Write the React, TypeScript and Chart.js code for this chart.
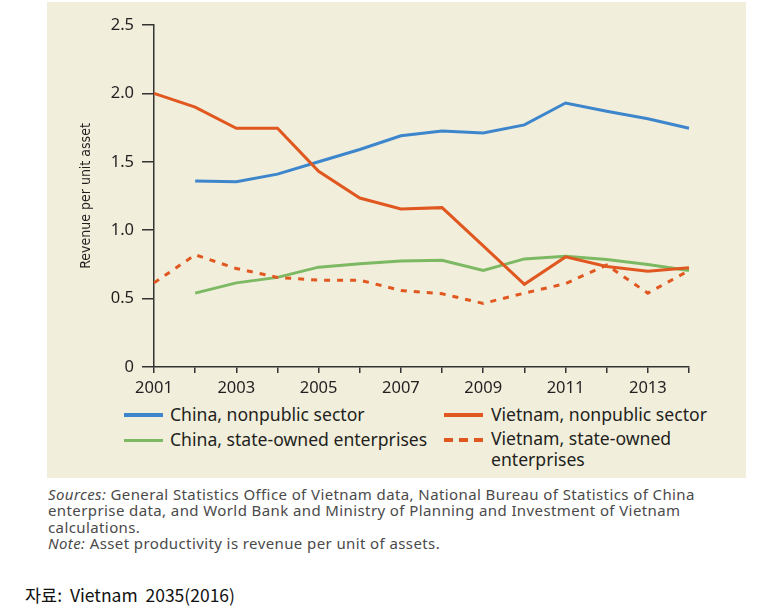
import React, { useEffect, useRef } from "react";
import { Chart, registerables } from "chart.js";

Chart.register(...registerables);

const years = ["2001", "2002", "2003", "2004", "2005", "2006", "2007", "2008", "2009", "2010", "2011", "2012", "2013", "2014"];
const chinaNonpublic = [null, 1.36, 1.355, 1.41, 1.5, 1.59, 1.69, 1.725, 1.71, 1.77, 1.93, 1.87, 1.815, 1.745];
const vietnamNonpublic = [2.0, 1.9, 1.745, 1.745, 1.43, 1.235, 1.155, 1.165, 0.885, 0.605, 0.805, 0.735, 0.7, 0.725];
const chinaSOE = [null, 0.54, 0.615, 0.655, 0.73, 0.755, 0.775, 0.78, 0.705, 0.79, 0.81, 0.785, 0.75, 0.705];
const vietnamSOE = [0.615, 0.82, 0.72, 0.655, 0.635, 0.635, 0.56, 0.535, 0.465, 0.54, 0.61, 0.745, 0.54, 0.705];
const yTicks = [0, 0.5, 1.0, 1.5, 2.0, 2.5];

const BLUE = "#3d86cc";
const ORANGE = "#e0571f";
const GREEN = "#7db963";
const BG = "#f1eedc";
const AXIS = "#333333";
const TEXT = "#231f20";

export default function App() {
  const canvasRef = useRef<HTMLCanvasElement | null>(null);

  useEffect(() => {
    if (!canvasRef.current) return;
    const chart = new Chart(canvasRef.current, {
      type: "line",
      data: {
        labels: years,
        datasets: [
          {
            label: "Vietnam, nonpublic sector",
            data: vietnamNonpublic,
            borderColor: ORANGE,
            borderWidth: 3,
            pointRadius: 0,
            tension: 0,
            order: 0,
          },
          {
            label: "China, nonpublic sector",
            data: chinaNonpublic,
            borderColor: BLUE,
            borderWidth: 3,
            pointRadius: 0,
            tension: 0,
            order: 1,
          },
          {
            label: "Vietnam, state-owned enterprises",
            data: vietnamSOE,
            borderColor: ORANGE,
            borderWidth: 3,
            borderDash: [6, 7],
            pointRadius: 0,
            tension: 0,
            order: 2,
          },
          {
            label: "China, state-owned enterprises",
            data: chinaSOE,
            borderColor: GREEN,
            borderWidth: 3,
            pointRadius: 0,
            tension: 0,
            order: 3,
          },
        ],
      },
      options: {
        animation: false,
        responsive: false,
        maintainAspectRatio: false,
        layout: { padding: { left: 28, top: 23, right: 57, bottom: 0 } },
        plugins: {
          legend: { display: false },
          tooltip: { enabled: false },
        },
        scales: {
          x: {
            type: "category",
            offset: false,
            grid: {
              display: true,
              drawOnChartArea: false,
              drawTicks: true,
              tickLength: 6,
              color: AXIS,
              lineWidth: 1.5,
            },
            border: { color: AXIS, width: 1.5 },
            ticks: {
              autoSkip: false,
              maxRotation: 0,
              minRotation: 0,
              padding: 5,
              color: TEXT,
              font: { family: "'Noto Sans', sans-serif", size: 16.5 },
              callback: (_v: any, i: number) => (i % 2 === 0 ? years[i] : ""),
            },
            afterFit: (s: any) => {
              s.height = 33;
            },
          },
          y: {
            min: 0,
            max: 2.5,
            afterBuildTicks: (s: any) => {
              s.ticks = yTicks.map((v) => ({ value: v }));
            },
            grid: {
              display: true,
              drawOnChartArea: false,
              drawTicks: true,
              tickLength: 12,
              color: AXIS,
              lineWidth: 1.5,
            },
            border: { color: AXIS, width: 1.5 },
            ticks: {
              padding: 8,
              color: TEXT,
              font: { family: "'Noto Sans', sans-serif", size: 16.5 },
              callback: (v: any) => (Number(v) === 0 ? "0" : Number(v).toFixed(1)),
            },
            title: {
              display: true,
              text: "Revenue per unit asset",
              color: TEXT,
              font: { family: "'DejaVu Sans Condensed', sans-serif", size: 14 },
              padding: { top: 3, bottom: 0 },
            },
            afterFit: (s: any) => {
              s.width = 79;
            },
          },
        },
      },
    });
    return () => chart.destroy();
  }, []);

  const legendText: React.CSSProperties = {
    position: "absolute",
    fontFamily: "'Noto Sans', sans-serif",
    fontSize: 17.6,
    color: TEXT,
    lineHeight: "22px",
    whiteSpace: "nowrap",
  };
  const line = (left: number, top: number, color: string, h: number): React.CSSProperties => ({
    position: "absolute",
    left,
    top: top - h / 2,
    width: 39,
    height: h,
    background: color,
  });

  return (
    <div style={{ position: "absolute", left: 0, top: 0, width: 781, height: 614, background: "#ffffff" }}>
      <div style={{ position: "absolute", left: 47, top: 2, width: 699, height: 476, background: BG }}>
        <canvas ref={canvasRef} width={699} height={398} style={{ position: "absolute", left: 0, top: 0, width: 699, height: 398 }} />
      </div>
      {/* legend */}
      <div style={line(124, 415, BLUE, 4)} />
      <div style={{ ...legendText, left: 170, top: 403 }}>China, nonpublic sector</div>
      <div style={line(124, 440, GREEN, 3)} />
      <div style={{ ...legendText, left: 170, top: 428 }}>China, state-owned enterprises</div>
      <div style={line(444, 415, ORANGE, 4)} />
      <div style={{ ...legendText, left: 491, top: 403 }}>Vietnam, nonpublic sector</div>
      <div style={{ position: "absolute", left: 444, top: 438, width: 39, height: 4, background: `repeating-linear-gradient(to right, ${ORANGE} 0px, ${ORANGE} 9px, transparent 9px, transparent 15px)` }} />
      <div style={{ ...legendText, left: 491, top: 428, lineHeight: "21px" }}>
        Vietnam, state-owned
        <br />
        enterprises
      </div>
      {/* sources */}
      <div
        style={{
          position: "absolute",
          left: 48,
          top: 486,
          width: 720,
          fontFamily: "'Noto Sans', sans-serif",
          fontSize: 15,
          letterSpacing: "0.4px",
          lineHeight: "16.3px",
          color: "#4a4a4a",
          whiteSpace: "nowrap",
        }}
      >
        <i>Sources:</i> General Statistics Office of Vietnam data, National Bureau of Statistics of China
        <br />
        enterprise data, and World Bank and Ministry of Planning and Investment of Vietnam
        <br />
        calculations.
        <br />
        <i>Note:</i> Asset productivity is revenue per unit of assets.
      </div>
      <div
        style={{
          position: "absolute",
          left: 25,
          top: 583,
          fontFamily: "'Noto Sans CJK KR', sans-serif",
          fontSize: 17.5,
          lineHeight: "24px",
          color: "#111",
          whiteSpace: "pre",
        }}
      >
        {"자료:  Vietnam  2035(2016)"}
      </div>
    </div>
  );
}
